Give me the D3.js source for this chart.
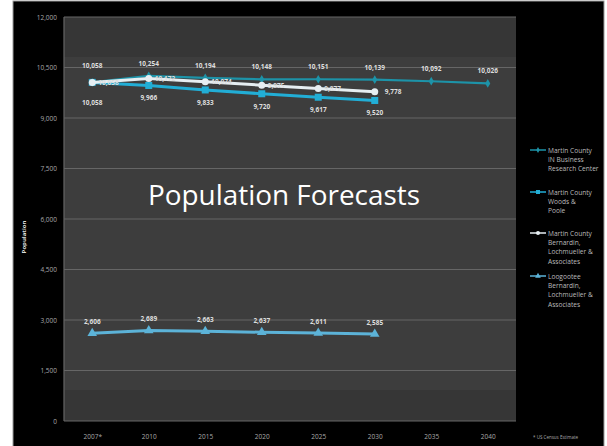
<!DOCTYPE html>
<html><head><meta charset="utf-8">
<script src="https://cdn.jsdelivr.net/npm/d3@7"></script>
<style>
html,body{margin:0;padding:0;background:#fff;}
svg{display:block;}
text{font-family:"Open Sans","Noto Sans",sans-serif;}
</style></head>
<body><svg id="c" width="607" height="446"></svg>
<script>
const categories = ["2007*","2010","2015","2020","2025","2030","2035","2040"];
const brcValues = [10058,10254,10194,10148,10151,10139,10092,10026];
const woodsValues = [10058,9966,9833,9720,9617,9520];
const bernardinValues = [10058,10172,10074,9975,9877,9778];
const loogooteeValues = [2606,2689,2663,2637,2611,2585];
const yTicks = [0,1500,3000,4500,6000,7500,9000,10500,12000];
const seriesNames = [
  ["Martin County","IN Business","Research Center"],
  ["Martin County","Woods &","Poole"],
  ["Martin County","Bernardin,","Lochmueller &","Associates"],
  ["Loogootee","Bernardin,","Lochmueller &","Associates"]
];

const svg = d3.select("#c");
// frame
svg.append("rect").attr("x",13).attr("y",1).attr("width",591).attr("height",446).attr("fill","#000").attr("stroke","#9a9a9a").attr("stroke-width",1);

const L=64, R=516, T=17, B=421;
const x = d3.scalePoint().domain(categories).range([L,R]).padding(0.5);
const y = d3.scaleLinear().domain([0,12000]).range([B,T]);

// plot background
svg.append("rect").attr("x",L).attr("y",T).attr("width",R-L).attr("height",B-T).attr("fill","#363636");
svg.append("rect").attr("x",L).attr("y",57).attr("width",R-L).attr("height",390-57).attr("fill","#3d3d3d");

// gridlines
svg.append("g").selectAll("line").data(yTicks).join("line")
  .attr("x1",L).attr("x2",R).attr("y1",d=>y(d)).attr("y2",d=>y(d))
  .attr("stroke","#666").attr("stroke-width",1.2);
svg.append("line").attr("x1",L).attr("x2",L).attr("y1",T).attr("y2",B).attr("stroke","#666").attr("stroke-width",1.2);

// axes
const yAxis = d3.axisLeft(y).tickValues(yTicks).tickSize(0).tickPadding(7).tickFormat(d3.format(","));
const gy = svg.append("g").attr("transform",`translate(${L},0)`).call(yAxis);
gy.select(".domain").remove();
gy.selectAll("text").style("fill","#a8a8a8").style("font-size","6.5px");

const xAxis = d3.axisBottom(x).tickSize(0).tickPadding(13);
const gx = svg.append("g").attr("transform",`translate(0,${B})`).call(xAxis);
gx.select(".domain").remove();
gx.selectAll("text").style("fill","#a8a8a8").style("font-size","6.5px");

// axis title
svg.append("text").attr("transform","translate(26,237) rotate(-90)").attr("text-anchor","middle")
  .style("fill","#ddd").style("font-size","6px").style("font-weight","bold").text("Population");

// title
svg.append("text").attr("x",148).attr("y",205).style("fill","#fff")
  .style("font-size","27px").attr("textLength",272).attr("lengthAdjust","spacingAndGlyphs")
  .text("Population Forecasts");

const line = d3.line().x((d,i)=>x(categories[i])).y(d=>y(d));

function drawSeries(vals,color,width,marker){
  const g = svg.append("g");
  g.append("path").datum(vals).attr("d",line).attr("fill","none").attr("stroke",color).attr("stroke-width",width);
  const pts = g.selectAll("g").data(vals).join("g").attr("transform",(d,i)=>`translate(${x(categories[i])},${y(d)})`);
  if(marker==="square") pts.append("rect").attr("x",-3.5).attr("y",-3.5).attr("width",7).attr("height",7).attr("fill",color);
  else if(marker==="circle") pts.append("circle").attr("r",3.5).attr("fill",color);
  else if(marker==="triangle") pts.append("path").attr("d",d3.symbol(d3.symbolTriangle,40)()).attr("fill",color);
  else pts.append("path").attr("d",d3.symbol(d3.symbolDiamond,22)()).attr("fill",color);
  return g;
}

const cBRC="#1d93a8", cWoods="#22aed6", cBern="#e6eef2", cLoog="#5cb3d8";
drawSeries(brcValues,cBRC,2.2,"diamond");
drawSeries(woodsValues,cWoods,3,"square");
drawSeries(bernardinValues,cBern,3,"circle");
drawSeries(loogooteeValues,cLoog,3,"triangle");

const fmt = d3.format(",");
const lab = svg.append("g").style("font-size","6.5px").style("font-weight","bold").style("fill","#ddd");
lab.selectAll(".a").data(brcValues).join("text").attr("text-anchor","middle")
  .attr("x",(d,i)=>x(categories[i])).attr("y",(d,i)=>y(d)-(i===0?14:10)).text(d=>fmt(d));
lab.selectAll(".b").data(woodsValues).join("text").attr("text-anchor","middle")
  .attr("x",(d,i)=>x(categories[i])).attr("y",(d,i)=>y(d)+(i===0?23:15)).text(d=>fmt(d));
lab.selectAll(".c").data(bernardinValues).join("text").attr("text-anchor","start")
  .attr("x",(d,i)=>x(categories[i])+(i===5?10:6)).attr("y",(d,i)=>y(d)+2.5).text(d=>fmt(d));
lab.selectAll(".d").data(loogooteeValues).join("text").attr("text-anchor","middle")
  .attr("x",(d,i)=>x(categories[i])).attr("y",(d,i)=>y(d)-9).text(d=>fmt(d));

// legend
const legY = [150,192,233,276];
const legColors=[cBRC,cWoods,cBern,cLoog];
const legMarkers=["diamond","square","circle","triangle"];
seriesNames.forEach((names,k)=>{
  const g = svg.append("g").attr("transform",`translate(530,${legY[k]})`);
  g.append("line").attr("x1",0).attr("x2",16).attr("y1",0).attr("y2",0).attr("stroke",legColors[k]).attr("stroke-width",1.5);
  const m = g.append("g").attr("transform","translate(8,0)");
  if(legMarkers[k]==="square") m.append("rect").attr("x",-2).attr("y",-2).attr("width",4).attr("height",4).attr("fill",legColors[k]);
  else if(legMarkers[k]==="circle") m.append("circle").attr("r",2).attr("fill",legColors[k]);
  else if(legMarkers[k]==="triangle") m.append("path").attr("d",d3.symbol(d3.symbolTriangle,14)()).attr("fill",legColors[k]);
  else m.append("path").attr("d",d3.symbol(d3.symbolDiamond,10)()).attr("fill",legColors[k]);
  g.selectAll("text").data(names).join("text").attr("x",18).attr("y",(d,i)=>2.5+i*9.4)
    .style("fill","#bbb").style("font-size","6.6px").text(d=>d);
});

svg.append("text").attr("x",533).attr("y",439).style("fill","#aaa").style("font-size","4.5px").text("* US Census Estimate");
</script></body></html>
